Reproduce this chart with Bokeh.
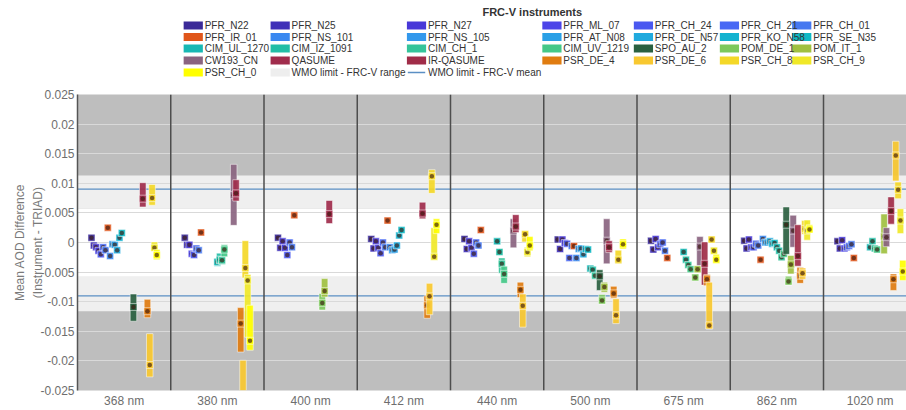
from bokeh.plotting import figure
from bokeh.layouts import column
from bokeh.models import Range1d, Span, FixedTicker, NumeralTickFormatter
from bokeh.core.properties import value
from bokeh.embed import file_html
from bokeh.resources import INLINE

# ---------------- data ----------------
WAVELENGTHS = ["368 nm", "380 nm", "400 nm", "412 nm", "440 nm", "500 nm", "675 nm", "862 nm", "1020 nm"]
Y_TICKS = [-0.025, -0.02, -0.015, -0.01, -0.005, 0, 0.005, 0.01, 0.015, 0.02, 0.025]

WMO_RANGE_UPPER = (0.0057, 0.0113)
WMO_RANGE_LOWER = (-0.0116, -0.0058)
WMO_MEAN = [0.009, -0.009]

# PFR instruments: mean difference per wavelength (None = no data)
PFR_N22 = [0.0008, 0.0008, 0.0008, 0.0006, 0.0006, 0.0005, 0.0003, 0.0003, 0.0002]
PFR_N25 = [-0.0005, -0.0004, -0.0009, -0.0010, -0.0011, -0.0011, -0.0012, -0.0010, -0.0010]
PFR_N27 = [-0.0008, -0.0004, 0.0002, 0.0002, 0.0002, 0.0005, 0.0006, 0.0005, 0.0004]
PFR_ML_07 = [-0.0014, -0.0019, -0.0009, -0.0009, -0.0009, -0.0001, -0.0008, -0.0008, -0.0010]
PFR_CH_24 = [-0.0020, -0.0021, -0.0021, -0.0018, -0.0019, -0.0002, -0.0003, -0.0008, -0.0008]
PFR_CH_21 = [-0.0008, -0.0010, 0.0000, 0.0000, 0.0000, -0.0026, 0.0000, -0.0002, -0.0006]
PFR_CH_01 = [-0.0013, -0.0013, -0.0008, -0.0008, -0.0005, -0.0006, -0.0014, -0.0005, -0.0003]
PFR_IR_01 = [0.0025, 0.0017, 0.0046, 0.0037, 0.0021, -0.0006, -0.0026, -0.0029, -0.0026]
PFR_NS_101 = [-0.0023, None, None, -0.0008, None, -0.0026, None, 0.0006, None]
PFR_NS_105 = [-0.0003, None, None, -0.0013, None, -0.0011, None, 0.0000, None]
PFR_AT_N08 = [-0.0004, None, None, -0.0012, None, -0.0010, None, 0.0000, None]
PFR_DE_N57 = [-0.0013, None, None, -0.0005, None, -0.0020, None, 0.0002, None]
PFR_KO_N58 = [0.0008, None, None, 0.0012, None, -0.0011, None, -0.0002, None]
PFR_SE_N35 = [0.0016, None, None, 0.0021, None, -0.0012, None, -0.0001, None]

# Other instruments: (mean, min, max) per wavelength
CIM_UL_1270 = [None, (-0.0033, -0.0040, -0.0026), None, None, (0.0002, -0.0003, 0.0006),
               (-0.0044, -0.0048, -0.0040), (-0.0016, -0.0019, -0.0013), (-0.0008, -0.0011, -0.0005),
               (-0.0008, -0.0011, -0.0005)]
CIM_IZ_1091 = [None, (-0.0029, -0.0036, -0.0018), None, None, (-0.0016, -0.0021, -0.0011),
               (-0.0046, -0.0050, -0.0042), (-0.0029, -0.0032, -0.0026), (-0.0014, -0.0017, -0.0011),
               (0.0002, -0.0001, 0.0005)]
CIM_CH_1 = [None, (-0.0030, -0.0037, -0.0024), None, None, (-0.0036, -0.0052, -0.0026),
            (-0.0056, -0.0060, -0.0052), (-0.0038, -0.0041, -0.0035), (-0.0025, -0.0028, -0.0022),
            (-0.0010, -0.0013, -0.0007)]
CIM_UV_1219 = [None, (-0.0012, -0.0024, -0.0004), None, None, (-0.0053, -0.0069, -0.0040),
               None, (-0.0045, -0.0048, -0.0042), (-0.0019, -0.0022, -0.0016),
               (-0.0012, -0.0015, -0.0009)]
SPO_AU_2 = [(-0.0109, -0.0133, -0.0087), None, None, None, None,
            (-0.0057, -0.0081, -0.0046), None, (0.0030, -0.0020, 0.0060), None]
POM_DE_1 = [None, None, (-0.0102, -0.0114, -0.0086), None, None,
            (-0.0098, -0.0104, -0.0088), (-0.0059, -0.0064, -0.0055), (-0.0066, -0.0072, -0.0057), None]
POM_IT_1 = [None, None, (-0.0082, -0.0092, -0.0061), None, None,
            (-0.0075, -0.0084, -0.0067), (-0.0045, -0.0049, -0.0041), (-0.0037, -0.0053, -0.0022),
            (0.0010, -0.0019, 0.0048)]
CW193_CN = [None, (0.0080, 0.0029, 0.0132), None, None, (0.0020, -0.0009, 0.0040),
            (0.0003, -0.0036, 0.0040), (-0.0007, -0.0039, 0.0010), (0.0020, -0.0008, 0.0046),
            (0.0009, -0.0007, 0.0025)]
QASUME = [(0.0074, 0.0060, 0.0101), (0.0083, 0.0070, 0.0106), (0.0048, 0.0032, 0.0071),
          (0.0049, 0.0040, 0.0068), (0.0027, 0.0017, 0.0047), (-0.0008, -0.0017, 0.0003),
          None, None, None]
IR_QASUME = [None, None, None, None, None, None,
             (-0.0036, -0.0072, 0.0001), (-0.0023, -0.0040, 0.0030), (0.0053, 0.0031, 0.0077)]
PSR_DE_4 = [(-0.0116, -0.0127, -0.0096), (-0.0137, -0.0185, -0.0110), None,
            (-0.0106, -0.0128, -0.0090), (-0.0080, -0.0093, -0.0067), (-0.0086, -0.0094, -0.0074),
            (-0.0062, -0.0073, -0.0054), (-0.0056, -0.0069, -0.0042), (-0.0062, -0.0081, -0.0053)]
PSR_DE_6 = [(-0.0207, -0.0227, -0.0154), (-0.0270, -0.0340, -0.0199), None,
            (-0.0091, -0.0122, -0.0069), (-0.0107, -0.0143, -0.0087), (-0.0123, -0.0137, -0.0095),
            (-0.0140, -0.0146, -0.0067), (-0.0052, -0.0062, -0.0043), (0.0147, 0.0104, 0.0171)]
PSR_CH_8 = [(0.0075, 0.0063, 0.0098), (-0.0043, -0.0060, 0.0003), None,
            (0.0112, 0.0083, 0.0123), (0.0014, 0.0001, 0.0020), (-0.0029, -0.0036, -0.0013),
            (0.0005, 0.0001, 0.0010), (0.0023, 0.0014, 0.0037), (0.0089, 0.0074, 0.0102)]
PSR_CH_9 = [(-0.0009, -0.0014, 0.0001), (-0.0064, -0.0160, -0.0054), None,
            (-0.0024, -0.0028, 0.0025), (-0.0016, -0.0024, -0.0008), None,
            (-0.0014, -0.0020, -0.0008), (0.0020, 0.0004, 0.0038), (0.0037, 0.0015, 0.0057)]
PSR_CH_0 = [(-0.0021, -0.0029, -0.0012), (-0.0166, -0.0182, -0.0106), None,
            (0.0030, 0.0015, 0.0040), (-0.0005, -0.0014, 0.0010), (-0.0003, -0.0011, 0.0006),
            (-0.0029, -0.0035, -0.0020), (0.0022, 0.0016, 0.0030), (-0.0049, -0.0064, -0.0030)]

INSTRUMENTS = [
    ("PFR_N22", "#3b2a98", PFR_N22), ("PFR_N25", "#4030b8", PFR_N25), ("PFR_N27", "#4838d8", PFR_N27),
    ("PFR_ML_07", "#4c44e8", PFR_ML_07), ("PFR_CH_24", "#4a58f0", PFR_CH_24), ("PFR_CH_21", "#4868f4", PFR_CH_21),
    ("PFR_CH_01", "#4678f0", PFR_CH_01),
    ("PFR_IR_01", "#e0561a", PFR_IR_01), ("PFR_NS_101", "#3a88f0", PFR_NS_101), ("PFR_NS_105", "#3298ec", PFR_NS_105),
    ("PFR_AT_N08", "#2aa0e6", PFR_AT_N08), ("PFR_DE_N57", "#20aade", PFR_DE_N57), ("PFR_KO_N58", "#12b2d0", PFR_KO_N58),
    ("PFR_SE_N35", "#10b8c4", PFR_SE_N35),
    ("CIM_UL_1270", "#18b8b4", CIM_UL_1270), ("CIM_IZ_1091", "#22bea6", CIM_IZ_1091), ("CIM_CH_1", "#34c49a", CIM_CH_1),
    ("CIM_UV_1219", "#44c888", CIM_UV_1219), ("SPO_AU_2", "#2a6040", SPO_AU_2), ("POM_DE_1", "#7cc85c", POM_DE_1),
    ("POM_IT_1", "#a0c040", POM_IT_1),
    ("CW193_CN", "#8a6480", CW193_CN), ("QASUME", "#a02c4c", QASUME), ("IR-QASUME", "#a02c48", IR_QASUME),
    ("PSR_DE_4", "#e07c10", PSR_DE_4), ("PSR_DE_6", "#f8c830", PSR_DE_6), ("PSR_CH_8", "#f4d828", PSR_CH_8),
    ("PSR_CH_9", "#f0e828", PSR_CH_9),
    ("PSR_CH_0", "#ffff00", PSR_CH_0),
]

# ---------------- layout constants ----------------
FONT = "Liberation Sans"
X_END = 8.89
SLOT0, SLOT_STEP, BAR_W = 0.15, 0.025, 0.07

# ---------------- legend figure ----------------
leg = figure(width=906, height=88, x_range=Range1d(0, 906), y_range=Range1d(88, 0),
             output_backend="svg", toolbar_location=None, min_border=0)
leg.axis.visible = False
leg.grid.visible = False
leg.outline_line_color = None

LEG_COL_X = [116, 211, 360, 508, 608, 702, 781]
LEG_ROW_Y = [25, 36.5, 48, 60, 72]

leg.text(x=[497], y=[11], text=["FRC-V instruments"], text_font=value(FONT), text_font_size="11px",
         text_font_style="bold", text_color="#333333", text_align="center", text_baseline="middle")

lx, ly, lc, tx, ty, tt = [], [], [], [], [], []
for i, (name, color, _) in enumerate(INSTRUMENTS):
    cx = LEG_COL_X[i % 7]
    cy = LEG_ROW_Y[i // 7]
    lx.append(cx + 10.5); ly.append(cy); lc.append(color)
    tx.append(cx + 23); ty.append(cy); tt.append(name)
# WMO range entry
lx.append(LEG_COL_X[1] + 10.5); ly.append(LEG_ROW_Y[4]); lc.append("#eeeeee")
tx.append(LEG_COL_X[1] + 23); ty.append(LEG_ROW_Y[4]); tt.append("WMO limit - FRC-V range")
leg.rect(x=lx, y=ly, width=21, height=8, fill_color=lc, line_color=None)
leg.segment(x0=[LEG_COL_X[2] + 1], y0=[LEG_ROW_Y[4]], x1=[LEG_COL_X[2] + 20], y1=[LEG_ROW_Y[4]],
            line_color="#5b8fc4", line_width=1.5)
tx.append(LEG_COL_X[2] + 23); ty.append(LEG_ROW_Y[4]); tt.append("WMO limit - FRC-V mean")
leg.text(x=tx, y=ty, text=tt, text_font=value(FONT), text_font_size="10px", text_color="#333333",
         text_align="left", text_baseline="middle")

# ---------------- main figure ----------------
p = figure(width=906, height=322, x_range=Range1d(0, X_END), y_range=Range1d(-0.025, 0.025),
           output_backend="svg", toolbar_location=None,
           min_border_left=77, min_border_right=0, min_border_top=6, min_border_bottom=20)
p.background_fill_color = "#bebebe"
p.border_fill_color = "white"
p.outline_line_color = None

# WMO limit bands
p.quad(left=[-1, -1], right=[10, 10], bottom=[WMO_RANGE_LOWER[0], WMO_RANGE_UPPER[0]],
       top=[WMO_RANGE_LOWER[1], WMO_RANGE_UPPER[1]], fill_color="#efefef", line_color=None, level="image")
p.quad(left=[-1], right=[10], bottom=[WMO_RANGE_LOWER[1]], top=[WMO_RANGE_UPPER[0]],
       fill_color="#ffffff", line_color=None, level="image")

p.xgrid.visible = False
p.ygrid.ticker = FixedTicker(ticks=Y_TICKS)
p.ygrid.grid_line_color = "#d9d9d9"
p.ygrid.grid_line_width = 1

for loc in WMO_MEAN:
    p.add_layout(Span(location=loc, dimension="width", line_color="#5b8fc4", line_width=1.3, level="underlay"))
for i in range(1, len(WAVELENGTHS)):
    p.add_layout(Span(location=i, dimension="height", line_color="#4d4d4d", line_width=1.5, level="underlay"))

# data marks
for k, (name, color, series) in enumerate(INSTRUMENTS):
    xs, means, los, his = [], [], [], []
    for i, v in enumerate(series):
        if v is None:
            continue
        xs.append(i + SLOT0 + SLOT_STEP * k)
        if isinstance(v, tuple):
            means.append(v[0]); los.append(v[1]); his.append(v[2])
        else:
            means.append(v); los.append(v); his.append(v)
    if not xs:
        continue
    p.vbar(x=xs, top=his, bottom=los, width=BAR_W, fill_color=color, fill_alpha=0.92,
           line_color="white", line_alpha=0.5, line_width=1)
    p.scatter(x=xs, y=means, marker="square", size=7, fill_color=color, fill_alpha=0.92,
              line_color="white", line_alpha=0.5, line_width=1)
    p.scatter(x=xs, y=means, marker="circle", size=4.5, fill_color="#3b1a10", fill_alpha=0.65, line_color=None)

# axes
p.yaxis.ticker = FixedTicker(ticks=Y_TICKS)
p.yaxis.formatter = NumeralTickFormatter(format="0.[000]")
p.yaxis.major_tick_line_color = None
p.yaxis.major_tick_out = 0
p.yaxis.major_tick_in = 0
p.yaxis.minor_tick_line_color = None
p.yaxis.minor_tick_out = 0
p.yaxis.axis_line_color = "#555555"
p.yaxis.axis_line_width = 1.5
p.yaxis.major_label_text_color = "#6e6e6e"
p.yaxis.major_label_text_font = FONT
p.yaxis.major_label_text_font_size = "12px"
p.yaxis.major_label_standoff = 3
p.yaxis.axis_label = "Mean AOD Difference\n(Instrument - TRIAD)"
p.yaxis.axis_label_text_font = FONT
p.yaxis.axis_label_text_font_style = "normal"
p.yaxis.axis_label_text_font_size = "12px"
p.yaxis.axis_label_text_line_height = 1.3
p.yaxis.axis_label_text_color = "#7a7a7a"
p.yaxis.axis_label_standoff = -8

xticks = [i + 0.5 for i in range(len(WAVELENGTHS))]
p.xaxis.ticker = FixedTicker(ticks=xticks)
p.xaxis.major_label_overrides = {t: lab for t, lab in zip(xticks, WAVELENGTHS)}
p.xaxis.major_tick_line_color = None
p.xaxis.major_tick_out = 0
p.xaxis.major_tick_in = 0
p.xaxis.minor_tick_line_color = None
p.xaxis.minor_tick_out = 0
p.xaxis.axis_line_color = None
p.xaxis.major_label_text_color = "#6e6e6e"
p.xaxis.major_label_text_font = FONT
p.xaxis.major_label_text_font_size = "12px"
p.xaxis.major_label_standoff = 3

layout = column(leg, p, spacing=0)
open("out.html", "w").write(file_html(layout, INLINE))
